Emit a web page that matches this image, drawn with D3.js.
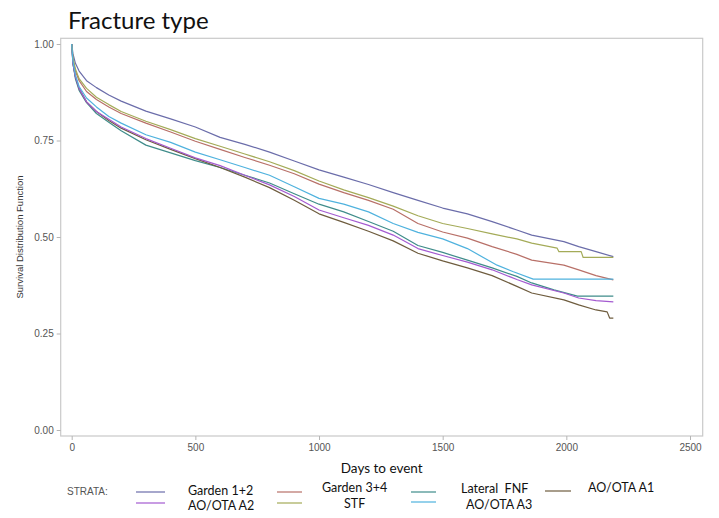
<!DOCTYPE html>
<html>
<head>
<meta charset="utf-8">
<script src="https://cdn.jsdelivr.net/npm/d3@7"></script>
<style>
  html, body { margin: 0; padding: 0; background: #fff; }
  svg { display: block; }
</style>
</head>
<body>
<svg id="chart" width="719" height="518"></svg>
<script>
// ---- data (days to event, survival) ----
const seriesNames = ["Garden 1+2", "Garden 3+4", "Lateral  FNF", "AO/OTA A1", "AO/OTA A2", "STF", "AO/OTA A3"];

const garden12 = [[0,1],[5,0.975],[15,0.95],[30,0.93],[60,0.905],[100,0.887],[150,0.868],[200,0.852],[300,0.826],[400,0.806],[500,0.785],[600,0.758],[700,0.74],[800,0.72],[900,0.697],[1000,0.674],[1100,0.655],[1200,0.636],[1300,0.615],[1400,0.595],[1500,0.575],[1600,0.56],[1700,0.54],[1800,0.518],[1860,0.505],[1990,0.488],[2050,0.475],[2120,0.462],[2190,0.449]];
const garden34 = [[0,1],[5,0.96],[15,0.93],[30,0.905],[60,0.877],[100,0.856],[150,0.837],[200,0.82],[300,0.795],[400,0.772],[500,0.748],[600,0.727],[700,0.706],[800,0.686],[900,0.664],[1000,0.637],[1100,0.615],[1200,0.595],[1300,0.572],[1400,0.535],[1500,0.513],[1600,0.497],[1700,0.475],[1800,0.455],[1860,0.44],[1990,0.427],[2050,0.415],[2120,0.40],[2190,0.389]];
const lateralFNF = [[0,1],[5,0.95],[15,0.91],[30,0.88],[60,0.848],[100,0.82],[150,0.797],[200,0.775],[300,0.738],[400,0.718],[500,0.698],[600,0.68],[700,0.66],[800,0.64],[900,0.612],[1000,0.585],[1100,0.565],[1200,0.54],[1300,0.515],[1400,0.478],[1500,0.46],[1600,0.44],[1700,0.42],[1800,0.398],[1860,0.381],[1950,0.363],[2045,0.347],[2190,0.347]];
const aoA1 = [[0,1],[5,0.95],[15,0.915],[30,0.885],[60,0.85],[100,0.825],[150,0.802],[200,0.782],[300,0.752],[400,0.727],[500,0.703],[600,0.68],[700,0.655],[800,0.628],[900,0.595],[1000,0.56],[1100,0.538],[1200,0.515],[1300,0.49],[1400,0.458],[1500,0.438],[1600,0.42],[1700,0.40],[1800,0.372],[1860,0.355],[1990,0.337],[2050,0.324],[2120,0.311],[2165,0.306],[2175,0.29],[2190,0.29]];
const aoA2 = [[0,1],[5,0.95],[15,0.915],[30,0.885],[60,0.85],[100,0.825],[150,0.805],[200,0.785],[300,0.755],[400,0.73],[500,0.705],[600,0.685],[700,0.66],[800,0.635],[900,0.605],[1000,0.57],[1100,0.55],[1200,0.53],[1300,0.505],[1400,0.47],[1500,0.452],[1600,0.435],[1700,0.415],[1800,0.39],[1860,0.376],[1990,0.355],[2050,0.342],[2120,0.335],[2190,0.332]];
const stf = [[0,1],[5,0.965],[15,0.935],[30,0.91],[60,0.885],[100,0.862],[150,0.843],[200,0.825],[300,0.80],[400,0.778],[500,0.755],[600,0.735],[700,0.715],[800,0.695],[900,0.672],[1000,0.645],[1100,0.622],[1200,0.602],[1300,0.58],[1400,0.555],[1500,0.535],[1600,0.522],[1700,0.508],[1800,0.495],[1860,0.484],[1963,0.471],[1970,0.462],[2060,0.462],[2068,0.447],[2190,0.447]];
const aoA3 = [[0,1],[5,0.955],[15,0.92],[30,0.89],[60,0.86],[100,0.837],[150,0.812],[200,0.795],[300,0.765],[400,0.745],[500,0.72],[600,0.70],[700,0.68],[800,0.66],[900,0.63],[1000,0.60],[1100,0.585],[1200,0.565],[1300,0.535],[1400,0.512],[1500,0.495],[1600,0.47],[1720,0.427],[1786,0.41],[1866,0.391],[2190,0.391]];

const seriesData = [garden12, garden34, lateralFNF, aoA1, aoA2, stf, aoA3];
const seriesColors = ["#6b6daa", "#b87068", "#3f8c8a", "#6e5c3e", "#a45ad0", "#a4ab58", "#4fb2de"];

const xTicks = [0, 500, 1000, 1500, 2000, 2500];
const yTicks = [0, 0.25, 0.5, 0.75, 1.0];

// ---- layout ----
const svg = d3.select("#chart");
const frame = { left: 60.7, right: 702.7, top: 38.3, bottom: 436 };

const x = d3.scaleLinear().domain([0, 2500]).range([71.7, 690]);
const y = d3.scaleLinear().domain([0, 1]).range([430, 44]);

// title
svg.append("text")
  .attr("x", 68).attr("y", 29)
  .attr("font-family", "Lato, 'Open Sans', sans-serif")
  .attr("font-size", 24)
  .attr("fill", "#111")
  .text("Fracture type");

// frame
svg.append("rect")
  .attr("x", frame.left).attr("y", frame.top)
  .attr("width", frame.right - frame.left)
  .attr("height", frame.bottom - frame.top)
  .attr("fill", "none")
  .attr("stroke", "#c9c9c9")
  .attr("stroke-width", 1.2);

// axes
const xAxis = d3.axisBottom(x).tickValues(xTicks).tickSize(4).tickPadding(4).tickFormat(d3.format("d"));
const yAxis = d3.axisLeft(y).tickValues(yTicks).tickSize(4).tickPadding(3).tickFormat(d3.format(".2f"));

const gx = svg.append("g").attr("transform", `translate(0,${frame.bottom})`).call(xAxis);
const gy = svg.append("g").attr("transform", `translate(${frame.left},0)`).call(yAxis);
[gx, gy].forEach(g => {
  g.select(".domain").remove();
  g.selectAll(".tick line").attr("stroke", "#b5b5b5");
  g.selectAll(".tick text")
    .attr("font-family", "'Liberation Sans', Arial, sans-serif")
    .attr("font-size", 10)
    .attr("fill", "#555");
});

// axis labels
svg.append("text")
  .attr("x", (frame.left + frame.right) / 2).attr("y", 473)
  .attr("text-anchor", "middle")
  .attr("font-family", "Lato, sans-serif")
  .attr("font-size", 13.5)
  .attr("fill", "#111")
  .text("Days to event");

svg.append("text")
  .attr("transform", `translate(23,237) rotate(-90)`)
  .attr("text-anchor", "middle")
  .attr("font-family", "'Liberation Sans', Arial, sans-serif")
  .attr("font-size", 9.5)
  .attr("fill", "#333")
  .text("Survival Distribution Function");

// curves
const line = d3.line().x(d => x(d[0])).y(d => y(d[1])).curve(d3.curveLinear);
seriesData.forEach((s, i) => {
  svg.append("path")
    .datum(s)
    .attr("d", line)
    .attr("fill", "none")
    .attr("stroke", seriesColors[i])
    .attr("stroke-width", 1.2)
    .attr("stroke-linejoin", "round");
});

// legend
svg.append("text")
  .attr("x", 67).attr("y", 495)
  .attr("font-family", "'Liberation Sans', Arial, sans-serif")
  .attr("font-size", 10)
  .attr("fill", "#555")
  .text("STRATA:");

const legendPos = [
  { sx: 136, sw: 29, sy: 492, tx: 188, ty: 495 },
  { sx: 277, sw: 25, sy: 492, tx: 322, ty: 492 },
  { sx: 411, sw: 25, sy: 492, tx: 461, ty: 493 },
  { sx: 545, sw: 26, sy: 491, tx: 588, ty: 492 },
  { sx: 136, sw: 29, sy: 503, tx: 188, ty: 510 },
  { sx: 277, sw: 25, sy: 503, tx: 344, ty: 508 },
  { sx: 411, sw: 25, sy: 502, tx: 466, ty: 509 }
];
seriesNames.forEach((name, i) => {
  const p = legendPos[i];
  svg.append("line")
    .attr("x1", p.sx).attr("x2", p.sx + p.sw)
    .attr("y1", p.sy).attr("y2", p.sy)
    .attr("stroke", seriesColors[i])
    .attr("stroke-width", 1.2);
  svg.append("text")
    .attr("x", p.tx).attr("y", p.ty)
    .attr("font-family", "Lato, sans-serif")
    .attr("font-size", 12.5)
    .attr("fill", "#111")
    .style("white-space", "pre")
    .text(name);
});
</script>
</body>
</html>
